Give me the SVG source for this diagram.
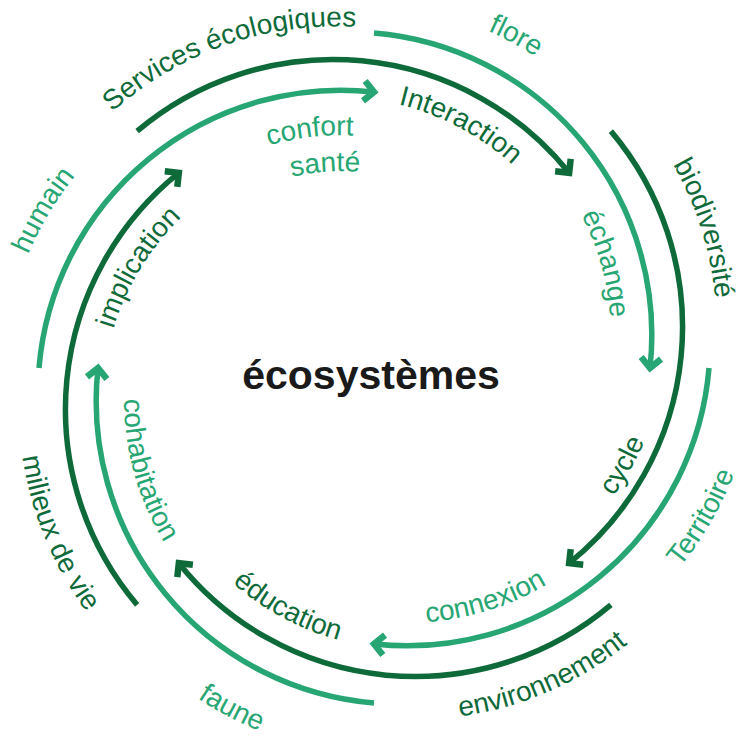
<svg xmlns="http://www.w3.org/2000/svg" xmlns:xlink="http://www.w3.org/1999/xlink" width="740" height="737" viewBox="0 0 740 737">
<style>
.dk{fill:none;stroke:#0f6a3a;stroke-width:5.5;marker-end:url(#ad)}
.lt{fill:none;stroke:#27a673;stroke-width:5.5;marker-end:url(#al)}
.tl{font-family:"Liberation Sans",Arial,sans-serif;font-size:28px}
.td{fill:#0f6a3a}
.tg{fill:#27a673}
.title{font-family:"Liberation Sans",Arial,sans-serif;font-size:41px;font-weight:bold;fill:#1a1a1a}
</style>
<defs>
<marker id="ad" viewBox="-16 -16 32 32" markerWidth="32" markerHeight="32" refX="0" refY="0" orient="auto" markerUnits="userSpaceOnUse">
<path d="M-10,-10 L0,0 L-10,10" fill="none" stroke="#0f6a3a" stroke-width="6.5"/>
</marker>
<marker id="al" viewBox="-16 -16 32 32" markerWidth="32" markerHeight="32" refX="0" refY="0" orient="auto" markerUnits="userSpaceOnUse">
<path d="M-10,-10 L0,0 L-10,10" fill="none" stroke="#27a673" stroke-width="6.5"/>
</marker>
<path id="p-serv" d="M-288.8,-166.75 A333.5,333.5 0 0 1 288.8,-166.75"/>
<path id="p-flore" d="M-288.4,-166.5 A333,333 0 0 1 288.4,-166.5"/>
<path id="p-hum" d="M-295.3,-170.5 A341,341 0 0 1 295.3,-170.5"/>
<path id="p-bio" d="M-289.7,-167.25 A334.5,334.5 0 0 1 289.7,-167.25"/>
<path id="p-int" d="M-227.8,-131.5 A263,263 0 0 1 227.8,-131.5"/>
<path id="p-imp" d="M-228.6,-132 A264,264 0 0 1 228.6,-132"/>
<path id="p-ech" d="M-223.4,-129 A258,258 0 0 1 223.4,-129"/>
<path id="p-conf" d="M-220,-127 A254,254 0 0 1 220,-127"/>
<path id="p-san" d="M-188.8,-109 A218,218 0 0 1 188.8,-109"/>
<path id="p-cyc" d="M-246.8,142.5 A285,285 0 0 0 246.8,142.5"/>
<path id="p-ter" d="M-304,175.5 A351,351 0 0 0 304,175.5"/>
<path id="p-con" d="M-239,138 A276,276 0 0 0 239,138"/>
<path id="p-env" d="M-297.6,171.8 A343.6,343.6 0 0 0 297.6,171.8"/>
<path id="p-edu" d="M-237.3,137 A274,274 0 0 0 237.3,137"/>
<path id="p-fau" d="M-309.2,178.5 A357,357 0 0 0 309.2,178.5"/>
<path id="p-coh" d="M-234.7,135.5 A271,271 0 0 0 234.7,135.5"/>
<path id="p-mil" d="M-300.5,173.5 A347,347 0 0 0 300.5,173.5"/>
</defs>
<rect width="740" height="737" fill="#ffffff"/>
<g id="connectors">
<path class="lt" d="M374,33 A303,303 0 0 1 650,368"/>
<path class="dk" d="M374,33 A303,303 0 0 1 650,368" transform="rotate(45 374 368)"/>
<path class="lt" d="M374,33 A303,303 0 0 1 650,368" transform="rotate(90 374 368)"/>
<path class="dk" d="M374,33 A303,303 0 0 1 650,368" transform="rotate(135 374 368)"/>
<path class="lt" d="M374,33 A303,303 0 0 1 650,368" transform="rotate(180 374 368)"/>
<path class="dk" d="M374,33 A303,303 0 0 1 650,368" transform="rotate(225 374 368)"/>
<path class="lt" d="M374,33 A303,303 0 0 1 650,368" transform="rotate(270 374 368)"/>
<path class="dk" d="M374,33 A303,303 0 0 1 650,368" transform="rotate(315 374 368)"/>
</g>
<g id="center"><text class="title" x="371" y="389" text-anchor="middle">écosystèmes</text></g>
<g id="services" transform="translate(335.8 359.8) rotate(-19.3)"><text class="tl td" text-anchor="middle"><textPath xlink:href="#p-serv" href="#p-serv" startOffset="50%">Services écologiques</textPath></text></g>
<g id="interaction" transform="translate(335.8 359.8) rotate(28)"><text class="tl td" text-anchor="middle"><textPath xlink:href="#p-int" href="#p-int" startOffset="50%">Interaction</textPath></text></g>
<g id="humain" transform="translate(341.2 389.2) rotate(-59)"><text class="tl tg" text-anchor="middle"><textPath xlink:href="#p-hum" href="#p-hum" startOffset="50%">humain</textPath></text></g>
<g id="confort" transform="translate(341.2 389.2) rotate(-6.9)"><text class="tl tg" text-anchor="middle"><textPath xlink:href="#p-conf" href="#p-conf" startOffset="50%">confort</textPath></text></g>
<g id="sante" transform="translate(341.2 389.2) rotate(-4.1)"><text class="tl tg" text-anchor="middle"><textPath xlink:href="#p-san" href="#p-san" startOffset="50%">santé</textPath></text></g>
<g id="flore" transform="translate(352.8 335.2) rotate(28.6)"><text class="tl tg" text-anchor="middle"><textPath xlink:href="#p-flore" href="#p-flore" startOffset="50%">flore</textPath></text></g>
<g id="echange" transform="translate(352.8 335.2) rotate(74.2)"><text class="tl tg" text-anchor="middle"><textPath xlink:href="#p-ech" href="#p-ech" startOffset="50%">échange</textPath></text></g>
<g id="biodiversite" transform="translate(382.2 329.8) rotate(72.5)"><text class="tl td" text-anchor="middle"><textPath xlink:href="#p-bio" href="#p-bio" startOffset="50%">biodiversité</textPath></text></g>
<g id="cycle" transform="translate(382.2 329.8) rotate(-60.6)"><text class="tl td" text-anchor="middle"><textPath xlink:href="#p-cyc" href="#p-cyc" startOffset="50%">cycle</textPath></text></g>
<g id="territoire" transform="translate(406.8 346.8) rotate(-60)"><text class="tl tg" text-anchor="middle"><textPath xlink:href="#p-ter" href="#p-ter" startOffset="50%">Territoire</textPath></text></g>
<g id="connexion" transform="translate(406.8 346.8) rotate(-17.3)"><text class="tl tg" text-anchor="middle"><textPath xlink:href="#p-con" href="#p-con" startOffset="50%">connexion</textPath></text></g>
<g id="environnement" transform="translate(412.2 376.2) rotate(-23.4)"><text class="tl td" text-anchor="middle"><textPath xlink:href="#p-env" href="#p-env" startOffset="50%">environnement</textPath></text></g>
<g id="education" transform="translate(412.2 376.2) rotate(28.3)"><text class="tl td" text-anchor="middle"><textPath xlink:href="#p-edu" href="#p-edu" startOffset="50%">éducation</textPath></text></g>
<g id="faune" transform="translate(395.2 400.8) rotate(28)"><text class="tl tg" text-anchor="middle"><textPath xlink:href="#p-fau" href="#p-fau" startOffset="50%">faune</textPath></text></g>
<g id="cohabitation" transform="translate(395.2 400.8) rotate(74.4)"><text class="tl tg" text-anchor="middle"><textPath xlink:href="#p-coh" href="#p-coh" startOffset="50%">cohabitation</textPath></text></g>
<g id="milieux" transform="translate(365.8 406.2) rotate(67.6)"><text class="tl td" text-anchor="middle"><textPath xlink:href="#p-mil" href="#p-mil" startOffset="50%">milieux de vie</textPath></text></g>
<g id="implication" transform="translate(365.8 406.2) rotate(-58.6)"><text class="tl td" text-anchor="middle"><textPath xlink:href="#p-imp" href="#p-imp" startOffset="50%">implication</textPath></text></g>
</svg>
